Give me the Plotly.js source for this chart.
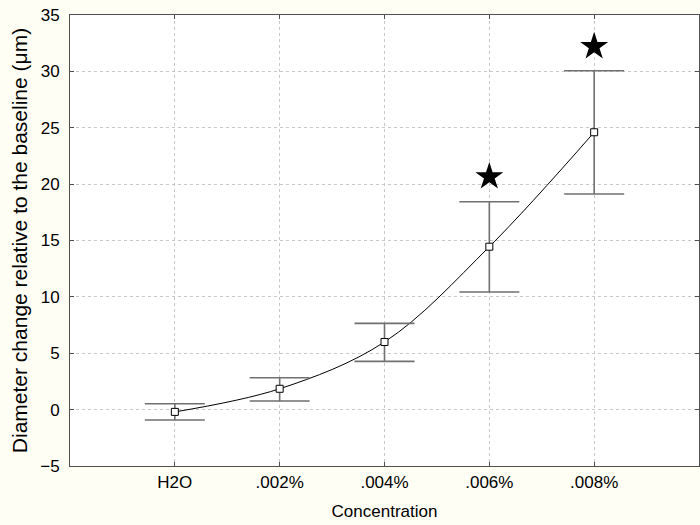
<!DOCTYPE html>
<html>
<head>
<meta charset="utf-8">
<script src="https://cdn.plot.ly/plotly-3.0.1.min.js"></script>
<style>html,body{margin:0;padding:0;background:#fffef4;}</style>
</head>
<body>
<div id="chart" style="width:700px;height:525px;"></div>
<script>
const categories = ['H2O', '.002%', '.004%', '.006%', '.008%'];
const means = [-0.2, 1.85, 6.0, 14.45, 24.6];
const upperBounds = [0.52, 2.83, 7.65, 18.44, 30.05];
const lowerBounds = [-0.92, 0.76, 4.28, 10.43, 19.12];
const starCategories = ['.006%', '.008%'];
const starValues = [20.66, 32.2];
const yTicks = [-5, 0, 5, 10, 15, 20, 25, 30, 35];

const errPlus = means.map((m, i) => upperBounds[i] - m);
const errMinus = means.map((m, i) => m - lowerBounds[i]);

const traces = [
  {
    x: categories, y: means, type: 'scatter', mode: 'lines',
    line: {color: '#000000', width: 1, shape: 'spline', smoothing: 1},
    hoverinfo: 'skip', showlegend: false
  },
  {
    x: categories, y: means, type: 'scatter', mode: 'markers',
    marker: {symbol: 'square', size: 7, color: '#ffffff', line: {color: '#000000', width: 1}},
    error_y: {type: 'data', symmetric: false, array: errPlus, arrayminus: errMinus,
              color: '#707070', thickness: 1.6, width: 30},
    showlegend: false
  },
  {
    x: starCategories, y: starValues, type: 'scatter', mode: 'markers',
    marker: {symbol: 'star', size: 21, color: '#000000'},
    showlegend: false
  }
];

const layout = {
  width: 700, height: 525,
  paper_bgcolor: '#fffef4', plot_bgcolor: '#ffffff',
  margin: {l: 70, r: 1, t: 15, b: 59},
  font: {family: 'Liberation Sans, Arial, sans-serif', color: '#000000'},
  xaxis: {
    type: 'category', range: [-1, 5],
    showgrid: true, gridcolor: '#c8c8c8', griddash: 'dot', gridwidth: 1,
    showline: true, linecolor: '#505050', linewidth: 1, mirror: 'ticks',
    ticks: 'inside', ticklen: 4, tickcolor: '#505050',
    tickfont: {size: 17}, zeroline: false, ticklabelstandoff: 1,
    title: {text: 'Concentration', font: {size: 17}, standoff: 13}
  },
  yaxis: {
    range: [-5, 35], tickvals: yTicks,
    showgrid: true, gridcolor: '#c8c8c8', griddash: 'dot', gridwidth: 1,
    showline: true, linecolor: '#505050', linewidth: 1, mirror: 'ticks',
    ticks: 'inside', ticklen: 4, tickcolor: '#505050',
    tickfont: {size: 17}, zeroline: false, ticklabelstandoff: 6,
    title: {text: 'Diameter change relative to the baseline (μm)', font: {size: 21}, standoff: 6}
  }
};

Plotly.newPlot('chart', traces, layout, {displayModeBar: false, staticPlot: true});
</script>
</body>
</html>
